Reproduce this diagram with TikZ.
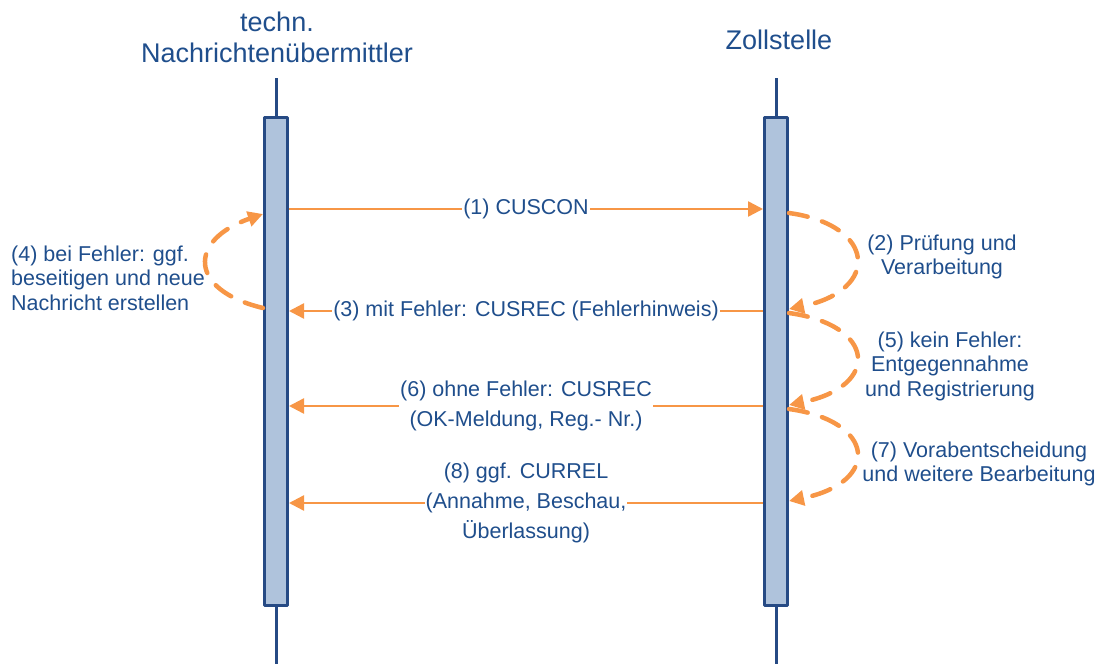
\documentclass[tikz,border=0pt]{standalone}
\usepackage{fontspec}
\setmainfont{Liberation Sans}
\usetikzlibrary{arrows.meta}
\definecolor{zorange}{HTML}{F79646}
\definecolor{zblue}{HTML}{1F4E8C}
\definecolor{barfill}{HTML}{AFC3DC}
\definecolor{barline}{HTML}{264A84}
\begin{document}
\begin{tikzpicture}[x=1pt,y=-1pt,line join=round,>={Triangle[length=15pt,width=15pt]},
	lifebar/.style={draw=barline,fill=barfill,line width=3pt,minimum width=23pt,minimum height=488pt,inner sep=0pt},
	lifeline/.style={draw=barline,line width=3pt},
	head/.style={text=zblue,font=\fontsize{27}{31}\selectfont,align=center},
	msg/.style={draw=zorange,line width=2.5pt,->},
	loopmsg/.style={draw=zorange,line width=4.5pt,dash pattern=on 19pt off 15pt,line cap=round,->},
	msglabel/.style={fill=white,text=zblue,inner sep=1pt,align=center,font=\fontsize{21.5}{30}\selectfont},
	note/.style={text=zblue,inner sep=0pt,align=center,font=\fontsize{21.5}{24.5}\selectfont}]
	\useasboundingbox (0,0) rectangle (1101,664);
	\node[head] (tnhead) at (277,37.5) {techn.\\Nachrichtenübermittler};
	\node[head] (zshead) at (779,40) {Zollstelle};
	\coordinate (tntop) at (276,78);
	\coordinate (tnbot) at (276,664);
	\coordinate (zstop) at (776,78);
	\coordinate (zsbot) at (776,664);
	\draw[lifeline] (tntop) -- (tnbot);
	\draw[lifeline] (zstop) -- (zsbot);
	\node[lifebar] (tn) at (276,361.5) {};
	\node[lifebar] (zs) at (776,361.5) {};
	\coordinate (m1) at (0,209);
	\coordinate (m3) at (0,311);
	\coordinate (m6) at (0,406);
	\coordinate (m8) at (0,503);
	\draw[msg] (tn.east |- m1) -- (zs.west |- m1) node[msglabel,midway] (l1) {(1) CUSCON};
	\draw[msg] (zs.west |- m3) -- (tn.east |- m3) node[msglabel,midway] (l3) {(3) mit Fehler: CUSREC (Fehlerhinweis)};
	\draw[msg] (zs.west |- m6) -- (tn.east |- m6) node[msglabel,midway] (l6) {(6) ohne Fehler: CUSREC\\(OK-Meldung, Reg.- Nr.)};
	\draw[msg] (zs.west |- m8) -- (tn.east |- m8) node[msglabel,midway] (l8) {(8) ggf. CURREL\\(Annahme, Beschau,\\Überlassung)};
	\coordinate (c2a) at (0,213);
	\coordinate (c2b) at (0,309);
	\coordinate (c5a) at (0,313);
	\coordinate (c5b) at (0,405);
	\coordinate (c7a) at (0,409);
	\coordinate (c7b) at (0,501);
	\coordinate (c4a) at (0,308);
	\coordinate (c4b) at (0,214);
	\draw[loopmsg] (zs.east |- c2a) .. controls +(87,12) and +(92,-19) .. (zs.east |- c2b);
	\draw[loopmsg] (zs.east |- c5a) .. controls +(87,12) and +(92,-19) .. (zs.east |- c5b);
	\draw[loopmsg] (zs.east |- c7a) .. controls +(87,12) and +(92,-19) .. (zs.east |- c7b);
	\draw[loopmsg] (tn.west |- c4a) .. controls +(-75,-18) and +(-75,26) .. (tn.west |- c4b);
	\node[note] (n2) at (942,257) {(2) Prüfung und\\Verarbeitung};
	\node[note] (n5) at (950,366) {(5) kein Fehler:\\Entgegennahme\\und Registrierung};
	\node[note] (n7) at (979,464) {(7) Vorabentscheidung\\und weitere Bearbeitung};
	\node[note,align=left,anchor=west] (n4) at (11,278) {(4) bei Fehler: ggf.\\beseitigen und neue\\Nachricht erstellen};
\end{tikzpicture}
\end{document}
